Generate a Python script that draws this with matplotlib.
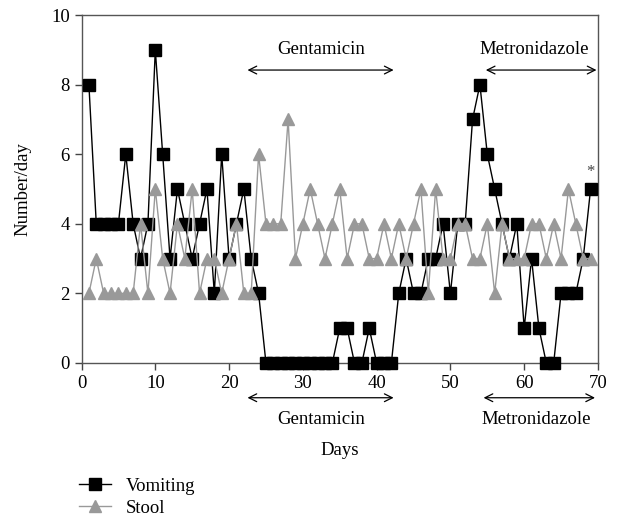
import matplotlib.pyplot as plt

plt.rcParams['font.family'] = ['Liberation Serif', 'DejaVu Serif']

# daily counts
days = list(range(1, 70))
vomiting = [8, 4, 4, 4, 4, 6, 4, 3, 4, 9,
            6, 3, 5, 4, 3, 4, 5, 2, 6, 3,
            4, 5, 3, 2, 0, 0, 0, 0, 0, 0,
            0, 0, 0, 0, 1, 1, 0, 0, 1, 0,
            0, 0, 2, 3, 2, 2, 3, 3, 4, 2,
            4, 4, 7, 8, 6, 5, 4, 3, 4, 1,
            3, 1, 0, 0, 2, 2, 2, 3, 5]
stool = [2, 3, 2, 2, 2, 2, 2, 4, 2, 5,
         3, 2, 4, 3, 5, 2, 3, 3, 2, 3,
         4, 2, 2, 6, 4, 4, 4, 7, 3, 4,
         5, 4, 3, 4, 5, 3, 4, 4, 3, 3,
         4, 3, 4, 3, 4, 5, 2, 5, 3, 3,
         4, 4, 3, 3, 4, 2, 4, 3, 3, 3,
         4, 4, 3, 4, 3, 5, 4, 3, 3]

# treatment periods (start day, end day)
gentamicin = (22.5, 42.3)
metronidazole = (54.8, 69.8)

fs = 13.5
fig = plt.figure(figsize=(6.19, 5.2), dpi=100)
ax = fig.add_axes([0.1317, 0.302, 0.8343, 0.669])

ax.plot(days, vomiting, color='black', lw=1.0, marker='s', markersize=8,
        label='Vomiting', clip_on=False, zorder=3)
ax.plot(days, stool, color='#999999', lw=1.0, marker='^', markersize=9,
        label='Stool', clip_on=False, zorder=4)

ax.set_xlim(0, 70)
ax.set_ylim(0, 10)
ax.set_xticks(range(0, 71, 10))
ax.set_yticks(range(0, 11, 2))
ax.tick_params(direction='out', length=5, width=1, labelsize=fs, color='#444444')
for s in ax.spines.values():
    s.set_color('#555555')
    s.set_linewidth(1.0)

ax.set_xlabel('Days', fontsize=fs, labelpad=36)
ax.set_ylabel('Number/day', fontsize=fs, labelpad=14)

arrow = dict(arrowstyle='<->', color='black', lw=0.9,
             mutation_scale=14, shrinkA=0, shrinkB=0)

# top annotations
for (a, b) in [gentamicin, metronidazole]:
    ax.annotate('', xy=(a, 8.42), xytext=(b, 8.42), arrowprops=arrow)
ax.text(32.5, 9.0, 'Gentamicin', ha='center', va='center', fontsize=fs)
ax.text(61.4, 9.0, 'Metronidazole', ha='center', va='center', fontsize=fs)

# bottom annotations
for (a, b) in [gentamicin, (54.5, 69.6)]:
    ax.annotate('', xy=(a, -1.0), xytext=(b, -1.0), arrowprops=arrow,
                annotation_clip=False)
ax.text(32.5, -1.62, 'Gentamicin', ha='center', va='center', fontsize=fs, clip_on=False)
ax.text(61.6, -1.62, 'Metronidazole', ha='center', va='center', fontsize=fs, clip_on=False)

ax.text(69, 5.25, '*', ha='center', va='bottom', fontsize=12, color='#444444')

fig.legend(loc='upper left', bbox_to_anchor=(0.128, 0.081), frameon=False,
           fontsize=fs, handlelength=1.7, handletextpad=0.8, labelspacing=0.25,
           borderpad=0, borderaxespad=0)

fig.savefig('out.png', dpi=100)
